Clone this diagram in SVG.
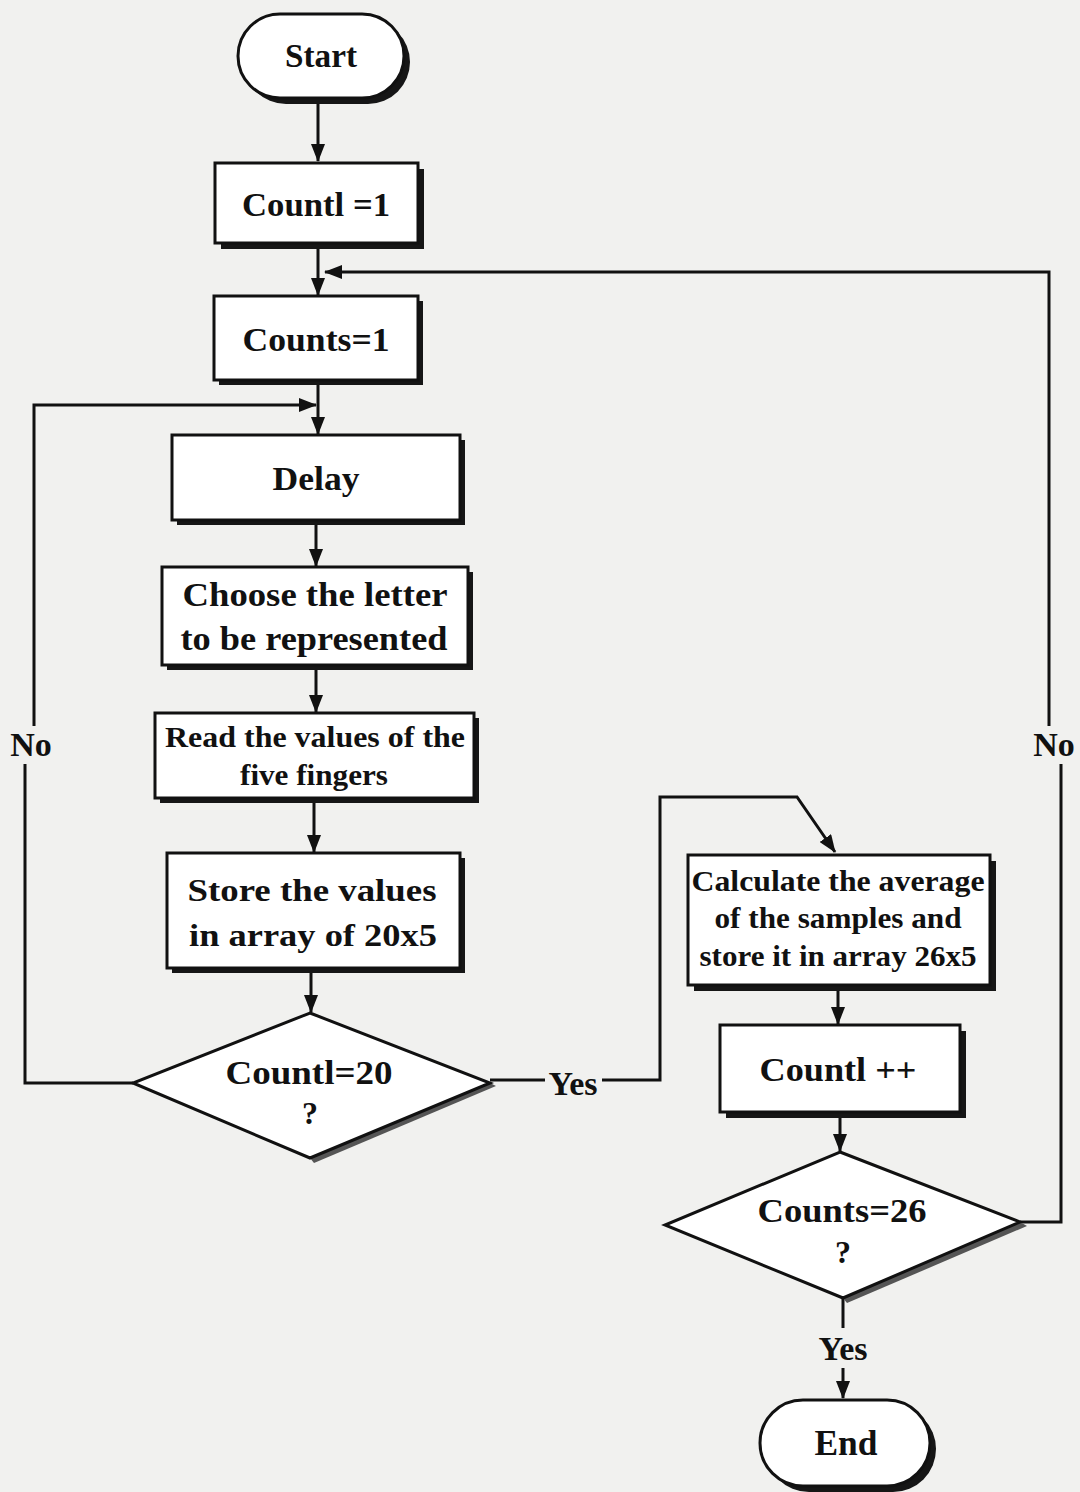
<svg xmlns="http://www.w3.org/2000/svg" width="1080" height="1492" viewBox="0 0 1080 1492">
<defs>
<style>
.bg{fill:#f1f1ef}
.box{fill:#ffffff;stroke:#111;stroke-width:3}
.sh{fill:#161616}
.dsh{fill:#555}
.t{font-family:"Liberation Serif","Times New Roman",serif;font-weight:bold;fill:#111;text-anchor:middle}
.c{fill:none;stroke:#111;stroke-width:3}
</style>
<marker id="ah" viewBox="0 0 18 14" refX="17" refY="7" markerWidth="18" markerHeight="14" markerUnits="userSpaceOnUse" orient="auto">
<path d="M0,0 L18,7 L0,14 Z" fill="#111"/>
</marker>
</defs>
<rect class="bg" x="0" y="0" width="1080" height="1492"/>

<g id="connectors">
<path class="c" d="M318,99 V161" marker-end="url(#ah)"/>
<path class="c" d="M318,244 V295" marker-end="url(#ah)"/>
<path class="c" d="M318,381 V434" marker-end="url(#ah)"/>
<path class="c" d="M316,521 V566" marker-end="url(#ah)"/>
<path class="c" d="M316,666 V712" marker-end="url(#ah)"/>
<path class="c" d="M314,799 V852" marker-end="url(#ah)"/>
<path class="c" d="M311,969 V1012" marker-end="url(#ah)"/>
<path class="c" d="M133,1083 H25 V764"/>
<path class="c" d="M34,726 V405 H316" marker-end="url(#ah)"/>
<path class="c" d="M490,1080 H545"/>
<path class="c" d="M602,1080 H660 V797 H797 L835,852" marker-end="url(#ah)"/>
<path class="c" d="M838,986 V1024" marker-end="url(#ah)"/>
<path class="c" d="M840,1113 V1151" marker-end="url(#ah)"/>
<path class="c" d="M1020,1222 H1061 V764"/>
<path class="c" d="M1049,726 V272 H325" marker-end="url(#ah)"/>
<path class="c" d="M843,1298 V1328"/>
<path class="c" d="M843,1368 V1398" marker-end="url(#ah)"/>
<text class="t" x="31" y="756" font-size="34">No</text>
<text class="t" x="1054" y="756" font-size="34">No</text>
<text class="t" x="573" y="1095" font-size="34">Yes</text>
<text class="t" x="843" y="1360" font-size="34">Yes</text>
</g>

<g id="start">
<rect class="sh" x="244" y="20" width="166" height="84" rx="42"/>
<rect class="box" x="238" y="14" width="166" height="84" rx="42"/>
<text class="t" x="321" y="67" font-size="34" textLength="72" lengthAdjust="spacingAndGlyphs">Start</text>
</g>

<g id="countl1">
<rect class="sh" x="221" y="169" width="203" height="80"/>
<rect class="box" x="215" y="163" width="203" height="80"/>
<text class="t" x="316" y="216" font-size="34" textLength="148" lengthAdjust="spacingAndGlyphs">Countl =1</text>
</g>

<g id="counts1">
<rect class="sh" x="219" y="301" width="204" height="84"/>
<rect class="box" x="214" y="296" width="204" height="84"/>
<text class="t" x="316" y="351" font-size="34" textLength="147" lengthAdjust="spacingAndGlyphs">Counts=1</text>
</g>

<g id="delay">
<rect class="sh" x="177" y="440" width="288" height="85"/>
<rect class="box" x="172" y="435" width="288" height="85"/>
<text class="t" x="316" y="490" font-size="34" textLength="87" lengthAdjust="spacingAndGlyphs">Delay</text>
</g>

<g id="choose">
<rect class="sh" x="167" y="572" width="306" height="98"/>
<rect class="box" x="162" y="567" width="306" height="98"/>
<text class="t" x="315" y="606" font-size="33" textLength="265" lengthAdjust="spacingAndGlyphs">Choose the letter</text>
<text class="t" x="314" y="650" font-size="33" textLength="267" lengthAdjust="spacingAndGlyphs">to be represented</text>
</g>

<g id="read">
<rect class="sh" x="160" y="718" width="319" height="85"/>
<rect class="box" x="155" y="713" width="319" height="85"/>
<text class="t" x="315" y="747" font-size="29" textLength="300" lengthAdjust="spacingAndGlyphs">Read the values of the</text>
<text class="t" x="314" y="785" font-size="29" textLength="148" lengthAdjust="spacingAndGlyphs">five fingers</text>
</g>

<g id="store">
<rect class="sh" x="172" y="858" width="293" height="115"/>
<rect class="box" x="167" y="853" width="293" height="115"/>
<text class="t" x="312" y="901" font-size="32" textLength="249" lengthAdjust="spacingAndGlyphs">Store the values</text>
<text class="t" x="313" y="946" font-size="32" textLength="248" lengthAdjust="spacingAndGlyphs">in array of 20x5</text>
</g>

<g id="decision1">
<polygon class="dsh" points="490,1083 496,1086 314,1163 310,1158"/>
<polygon class="box" points="310,1013 490,1083 310,1158 133,1083"/>
<text class="t" x="309" y="1084" font-size="34" textLength="167" lengthAdjust="spacingAndGlyphs">Countl=20</text>
<text class="t" x="310" y="1124" font-size="32">?</text>
</g>

<g id="calculate">
<rect class="sh" x="694" y="861" width="302" height="130"/>
<rect class="box" x="688" y="855" width="302" height="130"/>
<text class="t" x="838" y="891" font-size="29" textLength="293" lengthAdjust="spacingAndGlyphs">Calculate the average</text>
<text class="t" x="838" y="928" font-size="29" textLength="247" lengthAdjust="spacingAndGlyphs">of the samples and</text>
<text class="t" x="838" y="966" font-size="29" textLength="277" lengthAdjust="spacingAndGlyphs">store it in array 26x5</text>
</g>

<g id="countlpp">
<rect class="sh" x="726" y="1031" width="240" height="87"/>
<rect class="box" x="720" y="1025" width="240" height="87"/>
<text class="t" x="838" y="1081" font-size="34" textLength="157" lengthAdjust="spacingAndGlyphs">Countl ++</text>
</g>

<g id="decision2">
<polygon class="dsh" points="1020,1222 1027,1226 847,1303 843,1298"/>
<polygon class="box" points="840,1152 1020,1222 843,1298 665,1225"/>
<text class="t" x="842" y="1222" font-size="34" textLength="169" lengthAdjust="spacingAndGlyphs">Counts=26</text>
<text class="t" x="843" y="1263" font-size="32">?</text>
</g>

<g id="end">
<rect class="sh" x="766" y="1406" width="170" height="86" rx="43"/>
<rect class="box" x="760" y="1400" width="170" height="86" rx="43"/>
<text class="t" x="846" y="1455" font-size="36" textLength="63" lengthAdjust="spacingAndGlyphs">End</text>
</g>
</svg>
